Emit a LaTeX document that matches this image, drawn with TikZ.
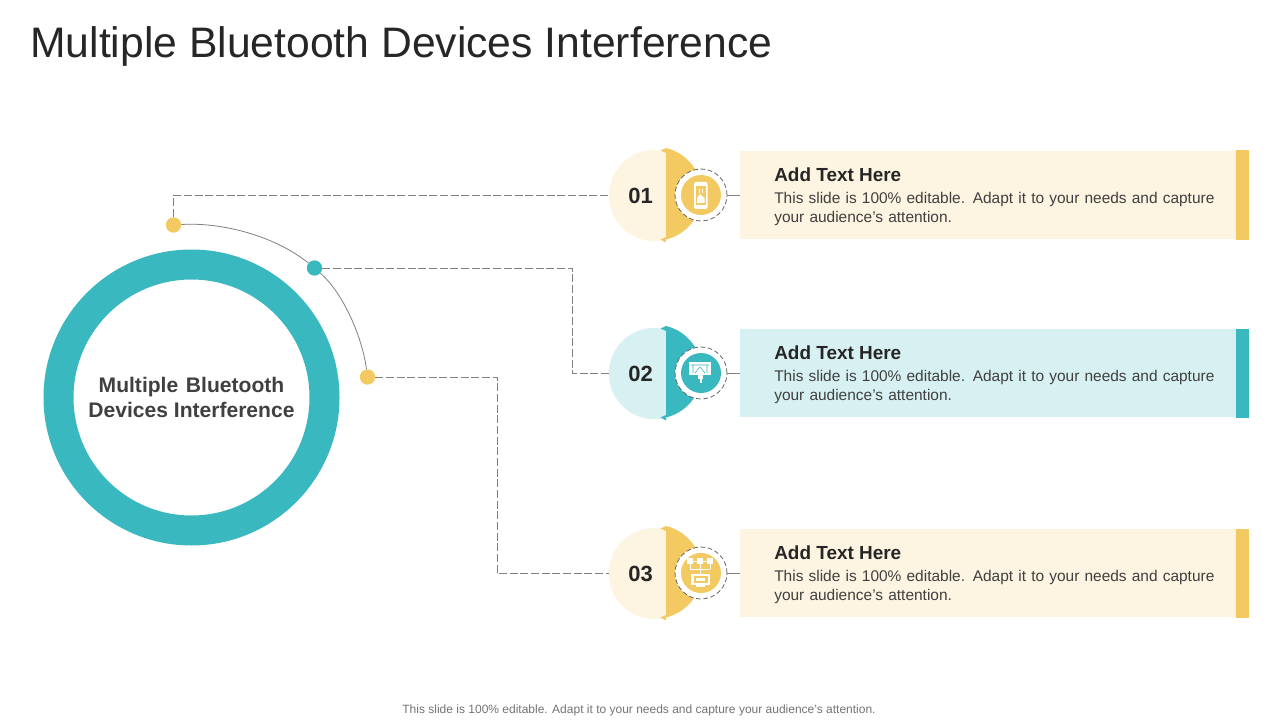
\documentclass[tikz,border=0pt]{standalone}
\usepackage{fontspec}
\setmainfont{Liberation Sans}
\definecolor{ringteal}{HTML}{3AB8BF}
\definecolor{sunyellow}{HTML}{F3C962}
\definecolor{paleyellow}{HTML}{FDF4E1}
\definecolor{paleteal}{HTML}{D7F1F2}
\definecolor{inkdark}{HTML}{262626}
\definecolor{inktext}{HTML}{404040}
\tikzset{
    wire/.style={draw=black!50, line width=.6pt},
    dashwire/.style={wire, dash pattern=on 6pt off 2pt},
    dotnode/.style={circle, inner sep=0pt, minimum size=11.5pt},
    numnode/.style={circle, inner sep=0pt, minimum size=68.5pt},
    numtext/.style={inner sep=0pt, font=\bfseries\fontsize{16.5}{20}\selectfont, text=inkdark},
    iconnode/.style={circle, inner sep=0pt, minimum size=39pt, draw=black!60, line width=.6pt, dash pattern=on 3.5pt off 2pt, fill=white},
    headnode/.style={anchor=west, inner sep=0pt, font=\bfseries\fontsize{14.2}{17}\selectfont, text=inkdark},
    bodynode/.style={anchor=north west, inner sep=0pt, text width=345pt, align=left, font=\fontsize{11.6}{14.3}\selectfont, text=inktext}
}
\begin{document}
\begin{tikzpicture}[x=.75pt,y=-.75pt]
    \useasboundingbox (0,0) rectangle (1280,720);

    \node[anchor=west, inner sep=0pt, font=\fontsize{32}{38}\selectfont, text=inkdark] (title) at (30,46) {Multiple Bluetooth Devices Interference};

    % main ring
    \node[circle, draw=ringteal, line width=22.5pt, inner sep=0pt, minimum size=199.5pt, align=center, font=\bfseries\fontsize{15.8}{18.8}\selectfont, text=inktext] (ring) at (191.5,397.5) {\raisebox{-1pt}{Multiple~\hspace{-3pt} Bluetooth}\\\raisebox{-1pt}{Devices Interference}};

    % dots on the arc
    \node[dotnode, fill=sunyellow] (dot1) at (173.5,225) {};
    \node[dotnode, fill=ringteal] (dot2) at (314.5,268) {};
    \node[dotnode, fill=sunyellow] (dot3) at (367.5,377) {};
    \draw[wire] (dot1) .. controls (222,222) and (275,236) .. (dot2);
    \draw[wire] (dot2) .. controls (342,292) and (362,335) .. (dot3);

    % rows
    \foreach \i/\y/\main/\pale in {1/195/sunyellow/paleyellow, 2/373/ringteal/paleteal, 3/573/sunyellow/paleyellow} {
        \fill[\pale] (740,\y-44) rectangle (1236,\y+44);
        \fill[\main] (1236,\y-44.5) rectangle (1248.5,\y+45);
        \node[numnode, fill=\pale] (num\i) at (654.5,\y+.5) {};
        \fill[\main] (666,\y-47) arc (-76.5:76.5:47) -- (666,\y+47.5) -- (660.5,\y+44.5) -- (666,\y+42) -- (666,\y-42) -- (660.5,\y-44.5) -- cycle;
        \node[numtext] (label\i) at (640.5,\y+1) {0\i};
        \node[iconnode] (icon\i) at (701,\y) {};
        \fill[\main] (icon\i.center) circle (20);
        \coordinate (box\i) at (740,\y);
        \draw[wire] (icon\i) -- (box\i);
        \node[headnode] (head\i) at (774,\y-20) {Add Text Here};
        \node[bodynode] (body\i) at (774,\y-3) {This slide is 100\% editable. Adapt it to your needs and capture your audience's attention.};
    }

    % connectors
    \coordinate (bend2) at (572,373.5);
    \coordinate (bend3) at (497,573.5);
    \draw[dashwire] (dot1) |- (num1);
    \draw[dashwire] (dot2) -| (bend2) -- (num2);
    \draw[dashwire] (dot3) -| (bend3) -- (num3);

    % phone icon
    \fill[white, rounded corners=1.5pt] (694,182) rectangle (707.5,209);
    \fill[sunyellow] (696,186) rectangle (705.5,205);
    \fill[white] (697,203) -- (697,198) -- (700,194) -- (704.5,198) -- (704.5,203) -- cycle;
    \draw[white, line width=.4pt] (699,193) -- (699,189) (702,193) -- (702,189);

    % board icon
    \fill[white] (689,362) rectangle (711,375);
    \fill[white] (698,375) rectangle (703,379);
    \fill[white] (699.5,379) rectangle (701.5,383);
    \draw[ringteal, line width=.4pt] (691,365) -- (709,365) (693,365) -- (693,373) (707,365) -- (707,373) (695,373) -- (700,367) -- (705,373);

    % network icon
    \foreach \x in {690,700,710} {
        \fill[white] (\x-3,558) rectangle (\x+3,564);
        \draw[white, line width=.5pt] (\x,564) -- (\x,569);
    }
    \draw[white, line width=.5pt] (690,561) -- (710,561) (690,569) -- (710,569) (700,569) -- (700,574);
    \fill[white] (691,574) rectangle (710,585);
    \fill[sunyellow] (693.5,576) rectangle (707.5,583);
    \fill[white] (696,578) rectangle (705,581);
    \fill[white] (696,585) rectangle (705,587);

    \node[inner sep=0pt, font=\fontsize{9}{11}\selectfont, text=black!55] (note) at (639,710) {This slide is 100\% editable. Adapt it to your needs and capture your audience's attention.};
\end{tikzpicture}
\end{document}
